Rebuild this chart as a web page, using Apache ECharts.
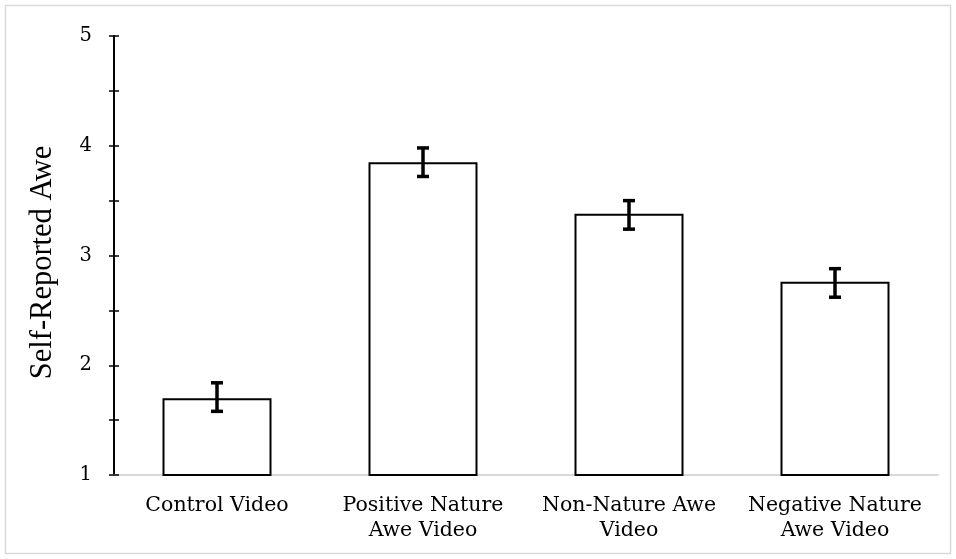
<!DOCTYPE html>
<html><head><meta charset="utf-8">
<script src="https://cdn.jsdelivr.net/npm/echarts@6/dist/echarts.min.js"></script>
<style>html,body{margin:0;padding:0;background:#fff}#c{width:956px;height:559px}</style>
</head><body><div id="c"></div>
<script>
const categories = ['Control Video', 'Positive Nature\nAwe Video', 'Non-Nature Awe\nVideo', 'Negative Nature\nAwe Video'];
const means = [1.70, 3.85, 3.38, 2.76];
const errLow = [1.58, 3.72, 3.24, 2.62];
const errHigh = [1.84, 3.98, 3.50, 2.88];
const yTicks = [1, 2, 3, 4, 5];
const yTitle = 'Self-Reported Awe';

const font = 'DejaVu Serif';
const chart = echarts.init(document.getElementById('c'));
chart.setOption({
  animation: false,
  graphic: [{type: 'rect', shape: {x: 5.5, y: 5.5, width: 945, height: 548}, style: {fill: 'none', stroke: '#d9d9d9', lineWidth: 1.5}, silent: true}],
  grid: {left: 114, right: 18, top: 36, bottom: 84},
  xAxis: {
    type: 'category', data: categories,
    axisLine: {lineStyle: {color: '#d9d9d9', width: 2}},
    axisTick: {show: false},
    axisLabel: {color: '#000', fontFamily: font, fontSize: 20.5, lineHeight: 25, margin: 18, interval: 0}
  },
  yAxis: [{
    type: 'value', min: 1, max: 5, interval: 0.5,
    name: yTitle, nameLocation: 'middle', nameGap: 56,
    nameTextStyle: {color: '#000', fontFamily: 'Liberation Serif', fontSize: 30.5, padding: [0, 0, 0, -14]},
    axisLine: {show: true, lineStyle: {color: '#000', width: 2}},
    axisTick: {show: true, length: 5, lineStyle: {color: '#000', width: 1.5}},
    splitLine: {show: false},
    axisLabel: {color: '#000', fontFamily: font, fontSize: 19.5, margin: 22,
      formatter: v => yTicks.includes(v) ? String(v) : ''}
  }, {
    type: 'value', min: 1, max: 5, interval: 0.5, position: 'left',
    axisLine: {show: false},
    axisTick: {show: true, inside: true, length: 5, lineStyle: {color: '#000', width: 1.5}},
    splitLine: {show: false}, axisLabel: {show: false}
  }],
  series: [{
    type: 'bar', data: means, barWidth: 109,
    itemStyle: {color: '#fff', borderColor: '#000', borderWidth: 2},
    z: 2
  }, {
    type: 'custom', z: 5,
    data: means.map((m, i) => [i, errLow[i], errHigh[i]]),
    renderItem: (params, api) => {
      const lo = api.coord([api.value(0), api.value(1)]);
      const hi = api.coord([api.value(0), api.value(2)]);
      const x = lo[0], hw = 6;
      const st = {stroke: '#000', lineWidth: 3.5};
      return {type: 'group', children: [
        {type: 'line', shape: {x1: x, y1: hi[1], x2: x, y2: lo[1]}, style: st},
        {type: 'line', shape: {x1: x - hw, y1: hi[1], x2: x + hw, y2: hi[1]}, style: st},
        {type: 'line', shape: {x1: x - hw, y1: lo[1], x2: x + hw, y2: lo[1]}, style: st}
      ]};
    }
  }]
});
</script></body></html>
